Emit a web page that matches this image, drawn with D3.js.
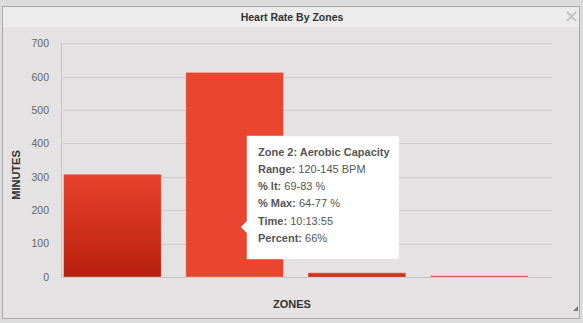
<!DOCTYPE html>
<html><head><meta charset="utf-8">
<script src="https://cdn.jsdelivr.net/npm/d3@7"></script>
<style>
html,body{margin:0;padding:0;background:#dcdcdc;}
svg{display:block;font-family:"Liberation Sans",Arial,Helvetica,sans-serif;}
</style></head>
<body>
<svg id="c" width="583" height="323"></svg>
<script>
const title = "Heart Rate By Zones";
const categories = ["Zone 1", "Zone 2", "Zone 3", "Zone 4"];
const minutes = [308, 613, 13, 4];
const yTicks = [0, 100, 200, 300, 400, 500, 600, 700];
const yLabel = "MINUTES";
const xLabel = "ZONES";
const hoverIndex = 1;
const tooltipTitle = "Zone 2: Aerobic Capacity";
const tooltipLabels = ["Range:", "% lt:", "% Max:", "Time:", "Percent:"];
const tooltipValues = ["120-145 BPM", "69-83 %", "64-77 %", "10:13:55", "66%"];

const svg = d3.select("#c");
const W = 583, H = 323;

// window frame
svg.append("rect").attr("x",0).attr("y",0).attr("width",W).attr("height",H).attr("fill","#dcdcdc");
svg.append("rect").attr("x",2.5).attr("y",6.5).attr("width",577).attr("height",312)
  .attr("fill","#e4e2e2").attr("stroke","#a9a9a9").attr("stroke-width",1);
svg.append("rect").attr("x",3).attr("y",7).attr("width",576).attr("height",20).attr("fill","#ececec");
svg.append("text").attr("x",292).attr("y",21).attr("text-anchor","middle")
  .attr("font-size","10.5px").attr("font-weight","bold").attr("fill","#333").text(title);
// close X
const cx = 571.5, cy = 16.5, cs = 4.5;
svg.append("path").attr("d",`M${cx-cs},${cy-cs}L${cx+cs},${cy+cs}M${cx+cs},${cy-cs}L${cx-cs},${cy+cs}`)
  .attr("stroke","#c4c4c4").attr("stroke-width",1.8).attr("fill","none");
// resize grip
svg.append("path").attr("d","M578,306L578,311L573,311Z").attr("fill","#777");

// scales
const x0 = 61, x1 = 552, yTop = 43.3, yBot = 277;
const y = d3.scaleLinear().domain([0,700]).range([yBot, yTop]);
const x = d3.scaleBand().domain(categories).range([63.5, 552]).paddingInner(0.2).paddingOuter(0.098).align(0);

// gradient
const defs = svg.append("defs");
const g = defs.append("linearGradient").attr("id","barGrad").attr("x1",0).attr("y1",0).attr("x2",0).attr("y2",1);
g.append("stop").attr("offset","0%").attr("stop-color","#ea432c");
g.append("stop").attr("offset","100%").attr("stop-color","#b71f0e");

// gridlines
svg.append("g").selectAll("line").data(yTicks.filter(d=>d>0)).join("line")
  .attr("x1",x0+2).attr("x2",x1).attr("y1",d=>Math.round(y(d))+0.5).attr("y2",d=>Math.round(y(d))+0.5)
  .attr("stroke","#cfcdcd").attr("stroke-width",1);

// y axis
const yAxis = d3.axisLeft(y).tickValues(yTicks).tickSize(0).tickPadding(12);
const ya = svg.append("g").attr("transform",`translate(${x0},0)`).call(yAxis);
ya.select(".domain").remove();
ya.selectAll("text").attr("font-size","10.5px").attr("fill","#666").attr("font-family","Liberation Sans,Arial,sans-serif");
svg.append("line").attr("x1",x0+0.5).attr("x2",x0+0.5).attr("y1",yTop).attr("y2",yBot+1).attr("stroke","#c6c4c4");

// x axis
const xAxis = d3.axisBottom(x).tickSize(0).tickFormat("");
const xa = svg.append("g").attr("transform",`translate(0,${yBot})`).call(xAxis);
xa.select(".domain").remove();
svg.append("line").attr("x1",x0).attr("x2",x1).attr("y1",yBot+0.5).attr("y2",yBot+0.5).attr("stroke","#c6c4c4");

// bars
svg.append("g").selectAll("rect").data(minutes).join("rect")
  .attr("x",(d,i)=>x(categories[i]))
  .attr("width",x.bandwidth())
  .attr("y",d=>y(d))
  .attr("height",d=>yBot-y(d))
  .attr("fill",(d,i)=> i===hoverIndex ? "#ea452f" : "url(#barGrad)")
  .attr("stroke","rgba(255,255,255,0.35)").attr("stroke-width",1);

// axis titles
svg.append("text").attr("transform","translate(20,175) rotate(-90)").attr("text-anchor","middle")
  .attr("font-size","11px").attr("font-weight","bold").attr("fill","#333").text(yLabel);
svg.append("text").attr("x",292).attr("y",308).attr("text-anchor","middle")
  .attr("font-size","11px").attr("font-weight","bold").attr("fill","#333").text(xLabel);

// tooltip
const tx = 247, ty = 136, tw = 152, th = 123;
const tipY = 227;
const tt = svg.append("g");
tt.append("path")
  .attr("d",`M${tx},${ty}H${tx+tw}V${ty+th}H${tx}V${tipY+6}L${tx-6},${tipY}L${tx},${tipY-6}Z`)
  .attr("fill","#ffffff").attr("stroke","#e8e8e8").attr("stroke-width",0.5);
tt.append("text").attr("x",258).attr("y",156).attr("font-size","11px").attr("font-weight","bold")
  .attr("fill","#555").text(tooltipTitle);
tooltipLabels.forEach((lab,i)=>{
  const t = tt.append("text").attr("x",258).attr("y",173+i*17.2).attr("font-size","11px").attr("fill","#555");
  t.append("tspan").attr("font-weight","bold").text(lab);
  t.append("tspan").text(" "+tooltipValues[i]);
});
</script>
</body></html>
